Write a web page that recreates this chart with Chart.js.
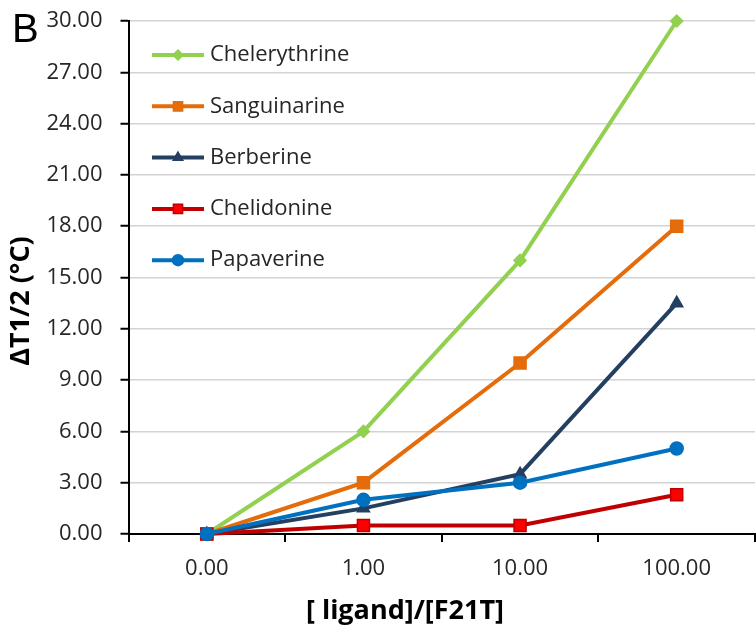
<!DOCTYPE html>
<html>
<head>
<meta charset="utf-8">
<style>
  html, body { margin: 0; padding: 0; background: #ffffff; }
  #wrap { width: 756px; height: 636px; }
</style>
<script src="https://cdn.jsdelivr.net/npm/chart.js@4/dist/chart.umd.min.js"></script>
</head>
<body>
<div id="wrap"><canvas id="c" width="756" height="636"></canvas></div>
<script>
// [ligand]/[F21T] ratios on the category axis
const ratios = ['0.00', '1.00', '10.00', '100.00'];

// ΔT1/2 (°C) for each alkaloid
const chelerythrine = [0, 6, 16, 30];
const sanguinarine  = [0, 3, 10, 18];
const berberine     = [0, 1.5, 3.5, 13.5];
const chelidonine   = [0, 0.5, 0.5, 2.3];
const papaverine    = [0, 2, 3, 5];

// y-axis range and step
const yMin = 0;
const yMax = 30;
const yStep = 3;

// axis titles
const xTitle = '[ ligand]/[F21T]';
const yTitle = 'ΔT1/2 (°C)';

const FONT = '"Open Sans", "DejaVu Sans", sans-serif';
const TEXT = '#262626';

function series(label, data, color, fill, style, radius, order) {
  return {
    label, data, order,
    borderColor: color,
    backgroundColor: fill,
    borderWidth: 4,
    tension: 0,
    pointStyle: style,
    pointRadius: radius,
    pointHoverRadius: radius,
    pointBackgroundColor: fill,
    pointBorderColor: color,
    pointBorderWidth: 1.5,
    clip: false
  };
}

// Legend drawn inside the plot, upper left
const innerLegend = {
  id: 'innerLegend',
  afterDatasetsDraw(chart) {
    const ctx = chart.ctx;
    const area = chart.chartArea;
    const x0 = area.left + 23.5;
    const x1 = area.left + 75.5;
    const xm = (x0 + x1) / 2;
    const y0 = area.top + 34;
    const dy = 51.3;
    const sizes = { rectRot: 5, rect: 6.5, triangle: 5.5, circle: 5.5 };
    ctx.save();
    chart.data.datasets.forEach((ds, i) => {
      const y = y0 + i * dy;
      ctx.strokeStyle = ds.borderColor;
      ctx.lineWidth = 4;
      ctx.beginPath();
      ctx.moveTo(x0, y);
      ctx.lineTo(x1, y);
      ctx.stroke();
      ctx.fillStyle = ds.pointBackgroundColor;
      ctx.strokeStyle = ds.pointBorderColor;
      ctx.lineWidth = 1.5;
      Chart.helpers.drawPoint(ctx, {
        pointStyle: ds.pointStyle,
        rotation: 0,
        radius: sizes[ds.pointStyle] || 5,
        borderWidth: 1.5
      }, xm, y);
      ctx.fillStyle = TEXT;
      ctx.font = '22px ' + FONT;
      ctx.textBaseline = 'middle';
      ctx.textAlign = 'left';
      ctx.fillText(ds.label, x1 + 6, y);
    });
    ctx.restore();
  }
};

// Axis titles and panel letter
const annotations = {
  id: 'annotations',
  afterDraw(chart) {
    const ctx = chart.ctx;
    ctx.save();
    ctx.fillStyle = '#000000';
    ctx.textAlign = 'center';
    ctx.textBaseline = 'middle';
    ctx.font = 'bold 27px ' + FONT;
    ctx.fillText(xTitle, 405, 611);
    ctx.save();
    ctx.translate(21, 301);
    ctx.rotate(-Math.PI / 2);
    ctx.fillText(yTitle, 0, 0);
    ctx.restore();
    ctx.font = '40px "Liberation Sans", Arial, sans-serif';
    ctx.textBaseline = 'alphabetic';
    ctx.textAlign = 'left';
    ctx.fillText('B', 12, 42);
    ctx.restore();
  }
};

new Chart(document.getElementById('c'), {
  type: 'line',
  data: {
    labels: ratios,
    datasets: [
      series('Chelerythrine', chelerythrine, '#92D050', '#92D050', 'rectRot', 6, 4),
      series('Sanguinarine', sanguinarine, '#E46C0A', '#E46C0A', 'rect', 8.5, 3),
      series('Berberine', berberine, '#243F60', '#243F60', 'triangle', 7, 2),
      series('Chelidonine', chelidonine, '#C00000', '#FF0000', 'rect', 8.5, 1),
      series('Papaverine', papaverine, '#0070C0', '#0070C0', 'circle', 6.5, 0)
    ]
  },
  options: {
    responsive: false,
    animation: false,
    events: [],
    layout: { autoPadding: false, padding: { top: 21, right: 1, left: 0, bottom: 0 } },
    plugins: {
      legend: { display: false },
      tooltip: { enabled: false }
    },
    scales: {
      x: {
        type: 'category',
        offset: true,
        grid: {
          display: true,
          drawOnChartArea: false,
          offset: true,
          tickLength: 8,
          color: '#000000',
          lineWidth: 2
        },
        border: { color: '#000000', width: 2 },
        ticks: {
          color: TEXT,
          font: { family: FONT, size: 22 },
          padding: 14,
          maxRotation: 0
        },
        afterFit(scale) {
          scale.height = 102;
          scale.paddingLeft = 0;
          scale.paddingRight = 0;
        }
      },
      y: {
        min: yMin,
        max: yMax,
        ticks: {
          stepSize: yStep,
          color: TEXT,
          font: { family: FONT, size: 22 },
          padding: 18,
          callback: (v) => Number(v).toFixed(2)
        },
        grid: {
          color: '#d3d3d3',
          lineWidth: 1.5,
          tickColor: '#000000',
          tickLength: 8,
          tickWidth: 2
        },
        border: { color: '#000000', width: 2 },
        afterFit(scale) {
          scale.width = 128.5;
          scale.paddingTop = 0;
          scale.paddingBottom = 0;
        }
      }
    }
  },
  plugins: [innerLegend, annotations]
});
</script>
</body>
</html>
